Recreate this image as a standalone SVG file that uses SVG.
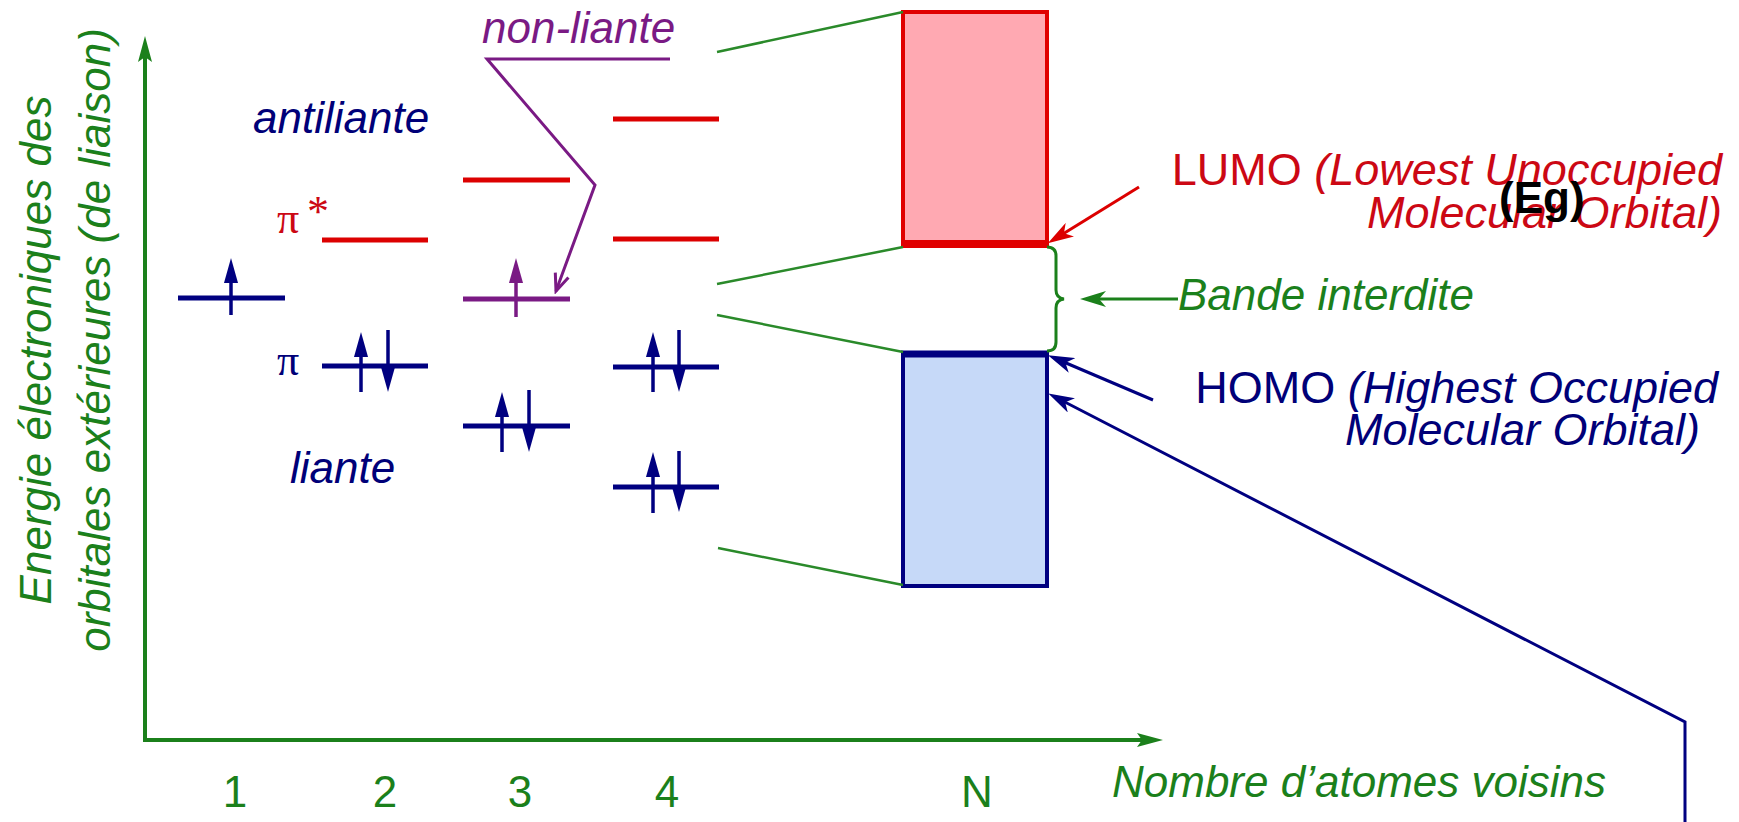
<svg xmlns="http://www.w3.org/2000/svg" width="1739" height="822" viewBox="0 0 1739 822">
  <style>
    text { font-family: "Liberation Sans", Arial, sans-serif; font-size: 44px; }
    .it { font-style: italic; }
    .serif { font-family: "Liberation Serif", "Times New Roman", serif; }
    .note { font-size: 45px; }
    .green { fill: #1b801b; }
    .navy { fill: #000078; }
    .red { fill: #cc0814; }
    .purple { fill: #7a1a84; }
    .lvl { stroke-width: 5; fill: none; }
    .spin { stroke-width: 3.5; fill: none; }
    .s-navy { stroke: #000080; }
    .s-red { stroke: #dc0000; }
    .s-purple { stroke: #7a1a84; }
    .band-link { stroke: #2a8a2a; stroke-width: 2.5; fill: none; }
  </style>
  <defs>
    <marker id="spinNavy" markerUnits="userSpaceOnUse" viewBox="0 0 25 14" markerWidth="25" markerHeight="14" refX="12" refY="7" orient="auto">
      <path d="M0,0 L25,7 L0,14 z" fill="#000080"/>
    </marker>
    <marker id="spinPurple" markerUnits="userSpaceOnUse" viewBox="0 0 25 14" markerWidth="25" markerHeight="14" refX="12" refY="7" orient="auto">
      <path d="M0,0 L25,7 L0,14 z" fill="#7a1a84"/>
    </marker>
    <marker id="axisHead" markerUnits="userSpaceOnUse" viewBox="0 0 26 14" markerWidth="26" markerHeight="14" refX="12" refY="7" orient="auto">
      <path d="M0,0 L26,7 L0,14 L5,7 z" fill="#1b801b"/>
    </marker>
    <marker id="barbGreen" markerUnits="userSpaceOnUse" viewBox="0 0 26 16" markerWidth="26" markerHeight="16" refX="14" refY="8" orient="auto">
      <path d="M0,0 L26,8 L0,16 L7,8 z" fill="#1b801b"/>
    </marker>
    <marker id="barbRed" markerUnits="userSpaceOnUse" viewBox="0 0 26 16" markerWidth="26" markerHeight="16" refX="14" refY="8" orient="auto">
      <path d="M0,0 L26,8 L0,16 L7,8 z" fill="#dc0000"/>
    </marker>
    <marker id="barbNavy" markerUnits="userSpaceOnUse" viewBox="0 0 26 16" markerWidth="26" markerHeight="16" refX="14" refY="8" orient="auto">
      <path d="M0,0 L26,8 L0,16 L7,8 z" fill="#000080"/>
    </marker>
    <marker id="openPurple" markerUnits="userSpaceOnUse" viewBox="0 0 22 18" markerWidth="22" markerHeight="18" refX="19" refY="9" orient="auto">
      <path d="M2,2 L19,9 L2,16" fill="none" stroke="#7a1a84" stroke-width="3"/>
    </marker>
  </defs>

  <rect width="1739" height="822" fill="#ffffff"/>

  <!-- axes -->
  <g id="axes">
    <line x1="145" y1="742" x2="145" y2="50" stroke="#1b801b" stroke-width="4" marker-end="url(#axisHead)"/>
    <line x1="143" y1="740" x2="1149" y2="740" stroke="#1b801b" stroke-width="4" marker-end="url(#axisHead)"/>
    <text class="it green" text-anchor="middle" transform="translate(51,350) rotate(-90)">Energie électroniques des</text>
    <text class="it green" text-anchor="middle" transform="translate(110,340) rotate(-90)">orbitales extérieures (de liaison)</text>
    <text class="green" x="235" y="807" text-anchor="middle">1</text>
    <text class="green" x="385" y="807" text-anchor="middle">2</text>
    <text class="green" x="520" y="807" text-anchor="middle">3</text>
    <text class="green" x="667" y="807" text-anchor="middle">4</text>
    <text class="green" x="977" y="807" text-anchor="middle">N</text>
    <text class="it green" x="1112" y="797">Nombre d’atomes voisins</text>
  </g>

  <!-- level labels -->
  <g id="labels">
    <text class="it navy" x="253" y="133">antiliante</text>
    <text class="it navy" x="290" y="483">liante</text>
    <text class="serif red" x="277" y="233" font-size="42">π</text>
    <text class="serif red" x="307" y="226" font-size="17">*</text>
    <text class="serif navy" x="277" y="375" font-size="42">π</text>
    <text class="it purple" x="482" y="43">non-liante</text>
  </g>

  <!-- one atom -->
  <g id="level-1">
    <line class="lvl s-navy" x1="178" y1="298" x2="285" y2="298"/>
    <line class="spin s-navy" x1="231" y1="315" x2="231" y2="271" marker-end="url(#spinNavy)"/>
  </g>

  <!-- two atoms -->
  <g id="level-2-antibonding">
    <line class="lvl s-red" x1="322" y1="240" x2="428" y2="240"/>
  </g>
  <g id="level-2-bonding">
    <line class="lvl s-navy" x1="322" y1="366" x2="428" y2="366"/>
    <line class="spin s-navy" x1="361" y1="392" x2="361" y2="345" marker-end="url(#spinNavy)"/>
    <line class="spin s-navy" x1="388" y1="330" x2="388" y2="379" marker-end="url(#spinNavy)"/>
  </g>

  <!-- three atoms -->
  <g id="level-3-antibonding">
    <line class="lvl s-red" x1="463" y1="180" x2="570" y2="180"/>
  </g>
  <g id="level-3-nonbonding">
    <line class="lvl s-purple" x1="463" y1="299" x2="570" y2="299"/>
    <line class="spin s-purple" x1="516" y1="317" x2="516" y2="271" marker-end="url(#spinPurple)"/>
  </g>
  <g id="level-3-bonding">
    <line class="lvl s-navy" x1="463" y1="426" x2="570" y2="426"/>
    <line class="spin s-navy" x1="502" y1="452" x2="502" y2="405" marker-end="url(#spinNavy)"/>
    <line class="spin s-navy" x1="529" y1="390" x2="529" y2="439" marker-end="url(#spinNavy)"/>
  </g>

  <!-- four atoms -->
  <g id="level-4-antibonding-high">
    <line class="lvl s-red" x1="613" y1="119" x2="719" y2="119"/>
  </g>
  <g id="level-4-antibonding-low">
    <line class="lvl s-red" x1="613" y1="239" x2="719" y2="239"/>
  </g>
  <g id="level-4-bonding-high">
    <line class="lvl s-navy" x1="613" y1="367" x2="719" y2="367"/>
    <line class="spin s-navy" x1="653" y1="392" x2="653" y2="345" marker-end="url(#spinNavy)"/>
    <line class="spin s-navy" x1="679" y1="330" x2="679" y2="379" marker-end="url(#spinNavy)"/>
  </g>
  <g id="level-4-bonding-low">
    <line class="lvl s-navy" x1="613" y1="487" x2="719" y2="487"/>
    <line class="spin s-navy" x1="653" y1="513" x2="653" y2="465" marker-end="url(#spinNavy)"/>
    <line class="spin s-navy" x1="679" y1="451" x2="679" y2="499" marker-end="url(#spinNavy)"/>
  </g>

  <!-- N atoms: bands -->
  <g id="conduction-band">
    <rect x="903" y="12" width="144" height="232" fill="#ffa9b2" stroke="#e00000" stroke-width="4"/>
    <line x1="901" y1="244" x2="1049" y2="244" stroke="#e00000" stroke-width="8"/>
  </g>
  <g id="valence-band">
    <rect x="903" y="354" width="144" height="232" fill="#c6d9f8" stroke="#000080" stroke-width="4"/>
    <line x1="901" y1="354" x2="1049" y2="354" stroke="#000080" stroke-width="7"/>
  </g>

  <!-- gap and orbital annotations -->
  <g id="gap">
    <path d="M1047,247 Q1056,247 1056,256 L1056,290 Q1056,298 1064,299 Q1056,300 1056,308 L1056,342 Q1056,351 1047,351" fill="none" stroke="#1b801b" stroke-width="3"/>
    <text class="it green" x="1178" y="310">Bande interdite</text>
  </g>
  <g id="lumo">
    <text class="note red" x="1722" y="185" text-anchor="end">LUMO <tspan class="it">(Lowest Unoccupied</tspan></text>
    <text class="note it red" x="1722" y="228" text-anchor="end">Molecular Orbital)</text>
  </g>
  <g id="homo">
    <text class="note navy" x="1718" y="403" text-anchor="end">HOMO <tspan class="it">(Highest Occupied</tspan></text>
    <text class="note it navy" x="1700" y="445" text-anchor="end">Molecular Orbital)</text>
  </g>
  <g id="eg">
    <text x="1499" y="213" font-size="54" font-weight="bold" fill="#000000">(Eg)</text>
  </g>

  <!-- connectors -->
  <g id="connectors">
    <line class="band-link" x1="717" y1="52" x2="903" y2="12"/>
    <line class="band-link" x1="717" y1="284" x2="903" y2="247"/>
    <line class="band-link" x1="717" y1="315" x2="903" y2="352"/>
    <line class="band-link" x1="718" y1="548" x2="903" y2="585"/>
    <polyline points="670,59 487,59 595,185 556,291" fill="none" stroke="#7a1a84" stroke-width="3" marker-end="url(#openPurple)"/>
    <line x1="1178" y1="299" x2="1092" y2="299" stroke="#1b801b" stroke-width="3" marker-end="url(#barbGreen)"/>
    <line x1="1139" y1="187" x2="1058" y2="237" stroke="#dc0000" stroke-width="3" marker-end="url(#barbRed)"/>
    <line x1="1153" y1="400" x2="1059" y2="360" stroke="#000080" stroke-width="3" marker-end="url(#barbNavy)"/>
    <polyline points="1685,822 1685,722 1059,399" fill="none" stroke="#000080" stroke-width="3" marker-end="url(#barbNavy)"/>
  </g>
</svg>
